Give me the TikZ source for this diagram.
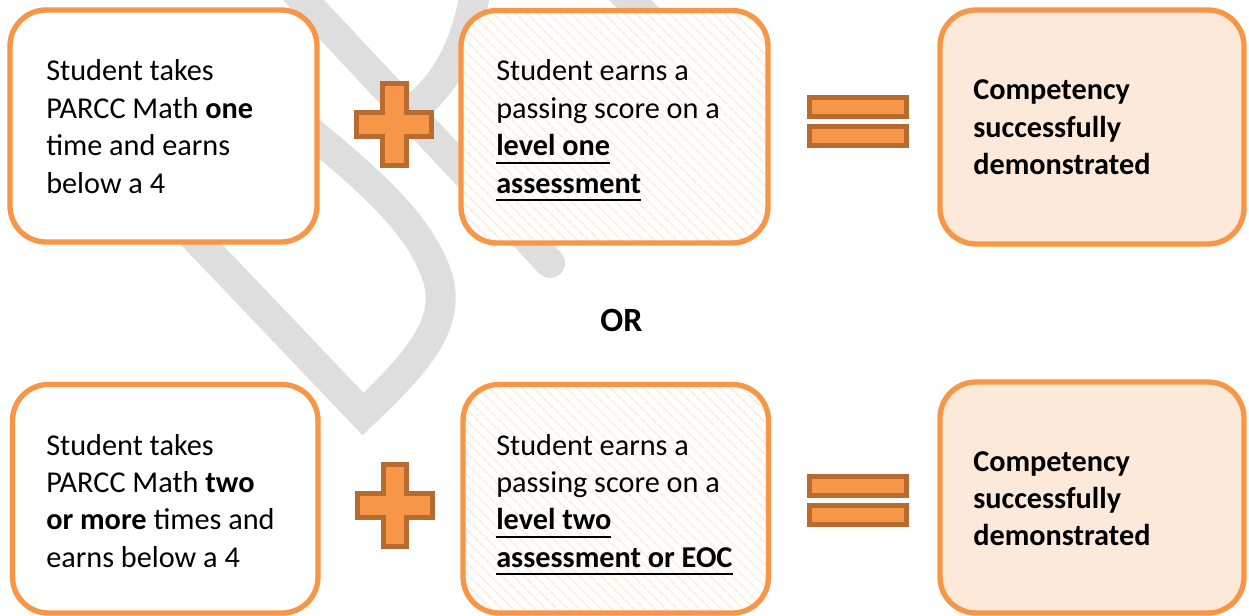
\documentclass[tikz,border=0pt]{standalone}
\usepackage{fontspec}
\setmainfont{Carlito}
\usetikzlibrary{patterns.meta}
\definecolor{boxorange}{RGB}{247,150,70}
\definecolor{symfill}{RGB}{247,150,70}
\definecolor{symedge}{RGB}{182,108,49}
\definecolor{peach}{RGB}{253,233,217}
\definecolor{stripe}{RGB}{254,238,225}
\definecolor{wmgrey}{RGB}{222,222,222}
\newcommand\myul[1]{\setbox0\hbox{#1}\rlap{\rule[-6pt]{\wd0}{1.7pt}}\box0}
\begin{document}
\begin{tikzpicture}[x=0.75pt,y=-0.75pt,
  boxbase/.style={rectangle, draw=boxorange, line width=4pt, rounded corners=27pt, inner sep=0pt},
  plainbox/.style={boxbase, fill=white},
  stripebox/.style={boxbase, preaction={fill=white}, pattern={Lines[angle=-45,distance=6.5pt,line width=1.8pt]}, pattern color=stripe},
  peachbox/.style={boxbase, fill=peach},
  boxtext/.style={anchor=base west, inner sep=0pt, font=\fontsize{22.7pt}{28.1pt}\selectfont},
  ortext/.style={anchor=base, inner sep=0pt, font=\fontsize{25.5pt}{30pt}\selectfont\bfseries},
  symbol/.style={draw=symedge, fill=symfill, line width=3.8pt, line join=miter},
  wm/.style={draw=wmgrey, line width=22.5pt}
]
\useasboundingbox (0,0) rectangle (1249,616);
\fill[white] (0,0) rectangle (1249,616);

% watermark
\draw[wm, line join=miter] (100,138) -- (363,414) .. controls (420,360) and (455,320) .. (435,270) .. controls (415,220) and (370,180) .. (290,115);
\draw[wm, line cap=round] (280,-25) -- (550,263);
\draw[wm] (480,-40) .. controls (472,30) and (455,75) .. (415,108);
\draw[wm] (600,-30) -- (690,60);

% boxes
\node[plainbox, minimum width=230.25pt, minimum height=174pt] (b1) at (163.5,126) {};
\node[stripebox, minimum width=230.25pt, minimum height=174.4pt] (b2) at (614.5,126.75) {};
\node[peachbox, minimum width=228pt, minimum height=175.5pt] (b3) at (1092,127) {};
\node[plainbox, minimum width=229.1pt, minimum height=171.4pt] (b4) at (165.25,498.75) {};
\node[stripebox, minimum width=229.1pt, minimum height=171.4pt] (b5) at (615.75,498.75) {};
\node[peachbox, minimum width=228pt, minimum height=173.25pt] (b6) at (1092,497.5) {};

% texts
\node[boxtext] (t1) at (46,81) {\begin{tabular}[t]{@{}l@{}}Student takes\\PARCC Math \textbf{one}\\time and earns\\below a 4\end{tabular}};
\node[boxtext] (t2) at (496,81) {\begin{tabular}[t]{@{}l@{}}Student earns a\\passing score on a\\\myul{\textbf{level one}}\\\myul{\textbf{assessment}}\end{tabular}};
\node[boxtext] (t3) at (973,100) {\begin{tabular}[t]{@{}l@{}}\textbf{Competency}\\\textbf{successfully}\\\textbf{demonstrated}\end{tabular}};
\node[boxtext] (t4) at (46,455) {\begin{tabular}[t]{@{}l@{}}Student takes\\PARCC Math \textbf{two}\\\textbf{or more} times and\\earns below a 4\end{tabular}};
\node[boxtext] (t5) at (496,455) {\begin{tabular}[t]{@{}l@{}}Student earns a\\passing score on a\\\myul{\textbf{level two}}\\\myul{\textbf{assessment or EOC}}\end{tabular}};
\node[boxtext] (t6) at (973,471) {\begin{tabular}[t]{@{}l@{}}\textbf{Competency}\\\textbf{successfully}\\\textbf{demonstrated}\end{tabular}};
\node[ortext] (or) at (621.5,332) {OR};

% plus signs
\draw[symbol] (382.5,83.5) -- (406.5,83.5) -- (406.5,112.5) -- (431.5,112.5) -- (431.5,136.5) -- (406.5,136.5) -- (406.5,165.5) -- (382.5,165.5) -- (382.5,136.5) -- (356.5,136.5) -- (356.5,112.5) -- (382.5,112.5) -- cycle;
\draw[symbol] (383.5,464.5) -- (406.5,464.5) -- (406.5,493.5) -- (432.5,493.5) -- (432.5,517.5) -- (406.5,517.5) -- (406.5,546.5) -- (383.5,546.5) -- (383.5,517.5) -- (357.5,517.5) -- (357.5,493.5) -- (383.5,493.5) -- cycle;

% equal signs
\draw[symbol] (809.5,97.5) rectangle (906.5,116.5);
\draw[symbol] (809.5,126.5) rectangle (906.5,145.5);
\draw[symbol] (809.5,476.5) rectangle (906.5,495.5);
\draw[symbol] (809.5,505.5) rectangle (906.5,524.5);
\end{tikzpicture}
\end{document}
